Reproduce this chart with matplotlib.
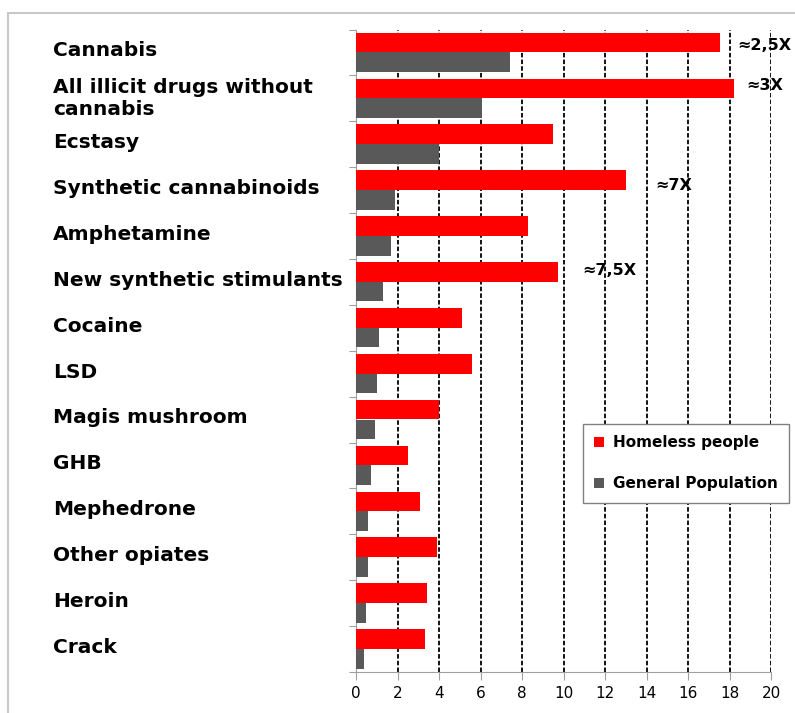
import matplotlib
matplotlib.use("Agg")
import matplotlib.pyplot as plt
import matplotlib.patches as mpatches
import numpy as np

drugs = ["Cannabis", "All illicit drugs without\ncannabis", "Ecstasy",
         "Synthetic cannabinoids", "Amphetamine", "New synthetic stimulants",
         "Cocaine", "LSD", "Magis mushroom", "GHB", "Mephedrone",
         "Other opiates", "Heroin", "Crack"]
homeless = [17.5, 18.2, 9.5, 13.0, 8.3, 9.7, 5.1, 5.6, 4.0, 2.5, 3.1, 3.9, 3.4, 3.3]
general = [7.4, 6.05, 4.0, 1.9, 1.7, 1.3, 1.1, 1.0, 0.9, 0.7, 0.6, 0.6, 0.5, 0.4]
ratios = ["≈2,5X", "≈3X", "≈7X", "≈7,5X"]
ratio_idx = [0, 1, 3, 5]
ratio_x = [18.35, 18.8, 14.4, 10.9]
ratio_dy = [0.34, 0.21, 0.39, 0.26]
ticks_x = list(range(0, 21, 2))

red = "#ff0000"
grey = "#595959"
axis_grey = "#a0a0a0"

fig = plt.figure(figsize=(7.95, 7.13), dpi=100)
ax = fig.add_axes([0.4478, 0.0575, 0.5226, 0.9011])

n = len(drugs)
slot = np.arange(n)
bh = 0.428
ax.barh(slot + 0.283, homeless, height=bh, color=red, label="Homeless people", zorder=3)
ax.barh(slot + 0.712, general, height=bh, color=grey, label="General Population", zorder=3)

ax.set_xlim(0, 20)
ax.set_ylim(n, 0)

for t in ticks_x[1:]:
    ax.axvline(t, color="black", linestyle=(0, (2.5, 1.2)), linewidth=1.3, zorder=1)

# category boundaries get the tick marks, names sit in the middle
ax.set_yticks(np.arange(n + 1))
ax.set_yticklabels([])
ax.set_yticks(slot + 0.42, minor=True)
ax.set_yticklabels(drugs, minor=True, ha="left", fontsize=14.5, fontweight="heavy",
                   linespacing=1.2)
ax.tick_params(axis="y", which="major", length=5, color=axis_grey, direction="out")
ax.tick_params(axis="y", which="minor", length=0, pad=218)

ax.set_xticks(ticks_x)
ax.tick_params(axis="x", length=6, color=axis_grey, labelsize=11, pad=4)

for side in ["top", "right"]:
    ax.spines[side].set_visible(False)
for side in ["left", "bottom"]:
    ax.spines[side].set_color(axis_grey)

for i, txt, xx, dy in zip(ratio_idx, ratios, ratio_x, ratio_dy):
    ax.text(xx, i + dy, txt, fontsize=11.5, fontweight="bold", va="center",
            ha="left", zorder=4)

leg = ax.legend(loc="upper left", bbox_to_anchor=(0.546, 0.386), frameon=True,
                fancybox=False, edgecolor="#808080", framealpha=1,
                prop={"weight": "bold", "size": 11}, handlelength=0.65,
                handleheight=0.65, labelspacing=1.7, borderpad=0.75,
                handletextpad=0.55, borderaxespad=0)
leg.get_frame().set_linewidth(1.0)

border = mpatches.Rectangle((8 / 795, -0.1), 1.2, 1.1 - 13 / 713,
                            transform=fig.transFigure, fill=False,
                            edgecolor="#c8c8c8", linewidth=1.5)
fig.patches.append(border)

fig.savefig("out.png", dpi=100)
